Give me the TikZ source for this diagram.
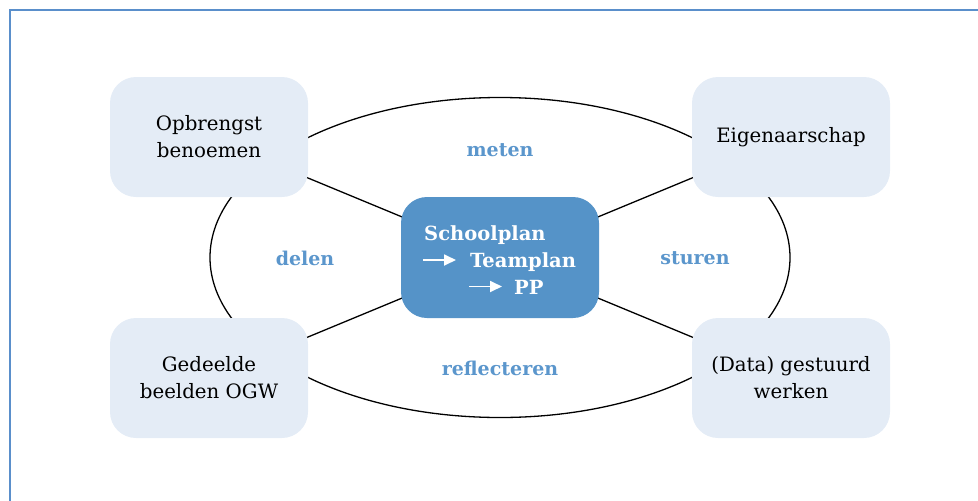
\documentclass[tikz,border=0pt]{standalone}
\usepackage{fontspec}
\setmainfont{DejaVu Serif}
\usetikzlibrary{arrows.meta,backgrounds}
\definecolor{framecol}{HTML}{5A8FCB}
\definecolor{softfill}{HTML}{E4ECF6}
\definecolor{corefill}{HTML}{5593C8}
\definecolor{labelcol}{HTML}{5B96CC}
\tikzset{
  outerbox/.style={fill=softfill, rounded corners=26pt, minimum width=198pt,
    minimum height=120pt, align=center, inner sep=0pt,
    font=\fontsize{19.8}{27}\selectfont},
  corebox/.style={fill=corefill, rounded corners=26pt, minimum width=198pt,
    minimum height=121pt, inner sep=0pt},
  coretext/.style={text=white, font=\fontsize{19.5}{27}\selectfont\bfseries,
    anchor=base west, inner sep=0pt},
  phase/.style={text=labelcol, font=\fontsize{19}{24}\selectfont\bfseries},
  spoke/.style={line width=1.3pt},
  whitearrow/.style={white, line width=1.8pt, -{Triangle[length=12pt,width=11pt]}}
}
\begin{document}
\begin{tikzpicture}[x=1pt, y=-1pt]
\useasboundingbox (0,0) rectangle (978,501);
\clip (0,0) rectangle (978,501);
% outer frame
\draw[framecol, line width=1.8pt] (10,520) -- (10,10) -- (990,10);

% the four corner activities
\node[outerbox] (tl) at (209,137) {Opbrengst\\benoemen};
\node[outerbox] (tr) at (791,137) {Eigenaarschap};
\node[outerbox] (bl) at (209,378) {Gedeelde\\beelden OGW};
\node[outerbox] (br) at (791,378) {(Data) gestuurd\\werken};

% central plan
\node[corebox] (core) at (500,257.5) {};
\node[coretext] (s1) at (424,240) {Schoolplan};
\node[coretext] (s2) at (470,267) {Teamplan};
\node[coretext] (s3) at (514,294) {PP};
\draw[whitearrow] (423,260) -- (456,260);
\draw[whitearrow] (469,286.5) -- (502,286.5);

% phase labels
\node[phase] (meten) at (500,150) {meten};
\node[phase] (delen) at (305,258) {delen};
\node[phase] (sturen) at (695,258) {sturen};
\node[phase] (refl) at (500,368) {reflecteren};

% cycle and spokes behind the boxes
\begin{scope}[on background layer]
  \draw[line width=1.3pt] (core.center) ellipse [x radius=290pt, y radius=160pt];
  \draw[spoke] (core.center) -- (tl.center);
  \draw[spoke] (core.center) -- (tr.center);
  \draw[spoke] (core.center) -- (bl.center);
  \draw[spoke] (core.center) -- (br.center);
\end{scope}
\end{tikzpicture}
\end{document}
